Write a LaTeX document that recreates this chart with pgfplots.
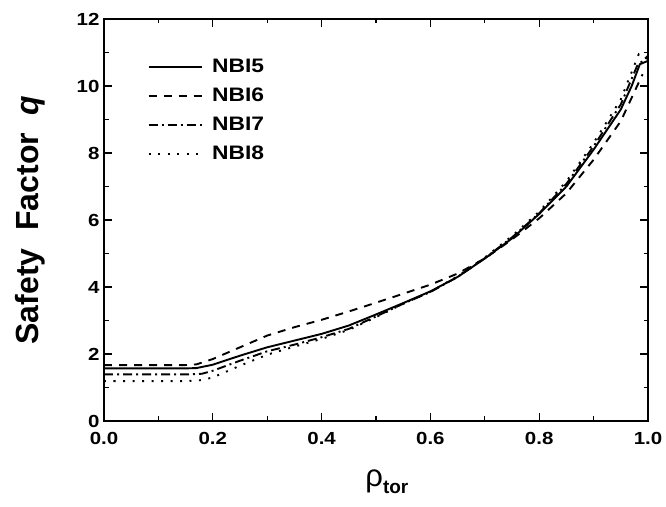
\documentclass[border=0pt]{standalone}
\usepackage{fontspec}
\setmainfont{Liberation Sans}[FakeStretch=1.17]
\newfontfamily\labelfont{Liberation Sans}
\usepackage{pgfplots}
\pgfplotsset{compat=1.18}
\begin{document}
\begin{tikzpicture}
\begin{axis}[
  name=ax,
  scale only axis,
  width=544pt, height=402pt,
  xmin=0, xmax=1, ymin=0, ymax=12,
  xtick={0,0.2,...,1.0}, ytick={0,2,...,12},
  minor x tick num=1, minor y tick num=1,
  tick align=inside,
  major tick length=8pt, minor tick length=4.5pt,
  tick style={line width=1.1pt, black},
  axis line style={line width=1.4pt},
  xticklabel style={/pgf/number format/fixed, /pgf/number format/fixed zerofill, /pgf/number format/precision=1, yshift=-8pt},
  /pgf/number format/assume math mode=true,
  ticklabel style={font=\fontsize{17.5}{20}\selectfont\bfseries},
  yticklabel style={xshift=-1pt},
  xlabel={\labelfont\fontsize{31}{34}\selectfont ρ\raisebox{-7pt}{\fontsize{19}{20}\selectfont\bfseries tor}},
  xlabel style={at={(axis description cs:0.52,-0.152)}, anchor=center},
  ylabel={\labelfont\fontsize{32}{34}\selectfont\bfseries Safety\ \ Factor\ \ \textit{q}},
  ylabel style={at={(axis description cs:-0.136,0.5)}, anchor=center, rotate=0},
  legend style={draw=none, fill=none, at={(axis description cs:0.0745,0.908)}, anchor=north west,
    font=\fontsize{19.5}{21}\selectfont\bfseries, row sep=12pt,
    nodes={inner xsep=9.5pt, inner ysep=1pt}},
  legend cell align=left,
  legend image code/.code={\draw[#1] (0pt,0pt) -- (53pt,0pt);},
  every axis plot/.append style={line width=1.9pt, black},
]
\addplot[solid] coordinates {
(0,1.57) (0.05,1.57) (0.1,1.57) (0.15,1.57) (0.17,1.58) (0.2,1.68) (0.25,1.95) (0.3,2.2) (0.35,2.4) (0.4,2.6) (0.45,2.85) (0.5,3.18) (0.55,3.52) (0.6,3.87) (0.65,4.3) (0.7,4.85) (0.75,5.45) (0.8,6.18) (0.85,7.0) (0.9,8.1) (0.95,9.3) (0.97,10.0) (0.985,10.65) (1.0,10.75)
};
\addlegendentry{NBI5}
\addplot[dash pattern=on 8pt off 7pt] coordinates {
(0,1.67) (0.05,1.67) (0.1,1.67) (0.15,1.67) (0.17,1.69) (0.2,1.85) (0.25,2.2) (0.3,2.55) (0.35,2.8) (0.4,3.02) (0.45,3.27) (0.5,3.53) (0.55,3.8) (0.6,4.07) (0.65,4.4) (0.7,4.85) (0.75,5.42) (0.8,6.05) (0.85,6.8) (0.9,7.8) (0.95,8.95) (0.98,10.0) (0.99,10.35)
};
\addlegendentry{NBI6}
\addplot[dash pattern=on 9pt off 4pt on 2pt off 4pt] coordinates {
(0,1.39) (0.05,1.39) (0.1,1.39) (0.15,1.39) (0.18,1.41) (0.2,1.5) (0.25,1.8) (0.3,2.08) (0.35,2.28) (0.4,2.5) (0.45,2.75) (0.5,3.12) (0.55,3.5) (0.6,3.85) (0.65,4.3) (0.7,4.86) (0.75,5.48) (0.8,6.2) (0.85,7.08) (0.9,8.2) (0.95,9.45) (0.98,10.6) (1.0,10.9)
};
\addlegendentry{NBI7}
\addplot[dash pattern=on 2pt off 7.5pt] coordinates {
(0,1.19) (0.05,1.19) (0.1,1.19) (0.15,1.19) (0.18,1.22) (0.2,1.3) (0.25,1.65) (0.3,1.98) (0.35,2.22) (0.4,2.45) (0.45,2.72) (0.5,3.1) (0.55,3.5) (0.6,3.86) (0.65,4.32) (0.7,4.88) (0.75,5.52) (0.8,6.25) (0.85,7.15) (0.9,8.3) (0.95,9.6) (0.983,10.95) (1.0,10.8)
};
\addlegendentry{NBI8}
\end{axis}
\path ([shift={(-104pt,-86pt)}]ax.south west) rectangle ([shift={(18pt,19pt)}]ax.north east);
\end{tikzpicture}
\end{document}
